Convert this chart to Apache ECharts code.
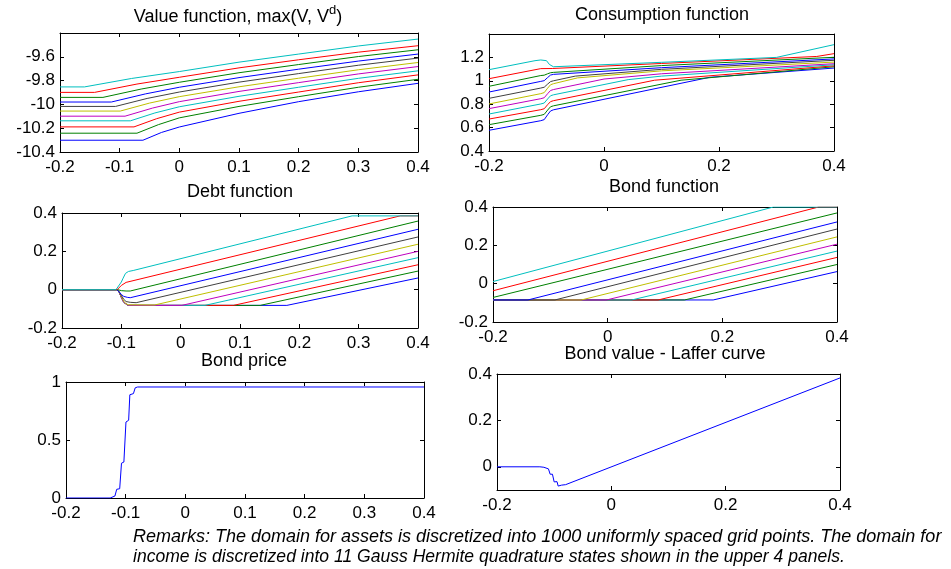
<!DOCTYPE html>
<html>
<head>
<meta charset="utf-8">
<script src="https://cdn.jsdelivr.net/npm/echarts@6/dist/echarts.min.js"></script>
<style>
html,body{margin:0;padding:0;background:#fff;}
#chart{width:951px;height:569px;}
</style>
</head>
<body>
<div id="chart"></div>
<script>
// ---------- data ----------
// series order: lowest income state (drawn first) -> highest income state
const seriesColors = ['#0000ff','#008000','#ff0000','#00bfbf','#bf00bf','#bfbf00','#404040','#0000ff','#008000','#ff0000','#00bfbf'];

const valueFunction = [
  [[-0.2,-10.301],[-0.061,-10.301],[-0.03,-10.236],[0,-10.19],[0.1,-10.075],[0.2,-9.977],[0.3,-9.894],[0.4,-9.823]],
  [[-0.2,-10.242],[-0.071,-10.242],[-0.035,-10.17],[0,-10.113],[0.1,-10.017],[0.2,-9.935],[0.3,-9.856],[0.4,-9.789]],
  [[-0.2,-10.189],[-0.076,-10.189],[-0.038,-10.12],[0,-10.065],[0.1,-9.974],[0.2,-9.896],[0.3,-9.818],[0.4,-9.752]],
  [[-0.2,-10.138],[-0.082,-10.138],[-0.041,-10.072],[0,-10.02],[0.1,-9.932],[0.2,-9.856],[0.3,-9.781],[0.4,-9.718]],
  [[-0.2,-10.099],[-0.091,-10.099],[-0.045,-10.031],[0,-9.977],[0.1,-9.891],[0.2,-9.817],[0.3,-9.744],[0.4,-9.682]],
  [[-0.2,-10.056],[-0.099,-10.056],[-0.05,-9.989],[0,-9.935],[0.1,-9.852],[0.2,-9.78],[0.3,-9.709],[0.4,-9.648]],
  [[-0.2,-10.017],[-0.107,-10.017],[-0.054,-9.95],[0,-9.896],[0.1,-9.813],[0.2,-9.741],[0.3,-9.671],[0.4,-9.611]],
  [[-0.2,-9.98],[-0.114,-9.98],[-0.057,-9.912],[0,-9.856],[0.1,-9.775],[0.2,-9.704],[0.3,-9.636],[0.4,-9.577]],
  [[-0.2,-9.941],[-0.128,-9.941],[-0.064,-9.871],[0,-9.814],[0.1,-9.734],[0.2,-9.665],[0.3,-9.598],[0.4,-9.541]],
  [[-0.2,-9.899],[-0.142,-9.899],[-0.071,-9.829],[0,-9.772],[0.1,-9.693],[0.2,-9.625],[0.3,-9.561],[0.4,-9.507]],
  [[-0.2,-9.853],[-0.159,-9.853],[-0.08,-9.782],[0,-9.724],[0.1,-9.645],[0.2,-9.577],[0.3,-9.509],[0.4,-9.451]]
];

const consumptionFunction = [
  [[-0.2,0.577],[-0.11,0.659],[-0.104,0.668],[-0.098,0.71],[-0.093,0.742],[-0.088,0.752],[0.184,1.03],[0.4,1.109]],
  [[-0.2,0.625],[-0.11,0.705],[-0.104,0.713],[-0.098,0.75],[-0.093,0.778],[-0.088,0.786],[0.134,1.005],[0.4,1.12]],
  [[-0.2,0.673],[-0.11,0.753],[-0.104,0.761],[-0.098,0.796],[-0.093,0.822],[-0.088,0.83],[0.088,1.005],[0.4,1.128]],
  [[-0.2,0.716],[-0.11,0.802],[-0.104,0.81],[-0.098,0.845],[-0.093,0.872],[-0.088,0.88],[0.042,1.01],[0.1,1.04],[0.4,1.137]],
  [[-0.2,0.762],[-0.11,0.847],[-0.104,0.855],[-0.098,0.89],[-0.093,0.917],[-0.088,0.925],[0,1.015],[0.1,1.06],[0.4,1.146]],
  [[-0.2,0.802],[-0.11,0.89],[-0.104,0.899],[-0.098,0.937],[-0.093,0.966],[-0.088,0.975],[-0.046,1.025],[0.1,1.085],[0.4,1.16]],
  [[-0.2,0.85],[-0.11,0.938],[-0.104,0.945],[-0.098,0.972],[-0.093,0.993],[-0.088,1.0],[-0.05,1.04],[0.1,1.098],[0.4,1.175]],
  [[-0.2,0.904],[-0.11,0.995],[-0.104,1.001],[-0.098,1.028],[-0.093,1.049],[-0.088,1.055],[0.1,1.112],[0.4,1.187]],
  [[-0.2,0.953],[-0.11,1.045],[-0.104,1.048],[-0.098,1.06],[-0.093,1.069],[-0.088,1.072],[0.1,1.13],[0.4,1.201]],
  [[-0.2,1.018],[-0.11,1.104],[-0.09,1.105],[0.1,1.148],[0.37,1.208],[0.4,1.232]],
  [[-0.2,1.095],[-0.12,1.172],[-0.11,1.178],[-0.1,1.172],[-0.095,1.14],[-0.088,1.12],[0.1,1.158],[0.3,1.2],[0.4,1.309]]
];

const debtFunction = [
  [[-0.2,0],[-0.108,0],[-0.104,-0.01],[-0.1,-0.04],[-0.096,-0.065],[-0.092,-0.075],[-0.088,-0.082],[0.179,-0.082],[0.4,0.061]],
  [[-0.2,0],[-0.108,0],[-0.104,-0.01],[-0.1,-0.04],[-0.096,-0.065],[-0.092,-0.075],[-0.088,-0.082],[0.134,-0.082],[0.4,0.097]],
  [[-0.2,0],[-0.108,0],[-0.104,-0.01],[-0.1,-0.04],[-0.096,-0.065],[-0.092,-0.075],[-0.088,-0.082],[0.089,-0.082],[0.4,0.13]],
  [[-0.2,0],[-0.108,0],[-0.104,-0.01],[-0.1,-0.04],[-0.096,-0.065],[-0.092,-0.075],[-0.088,-0.082],[0.041,-0.082],[0.4,0.167]],
  [[-0.2,0],[-0.108,0],[-0.104,-0.01],[-0.1,-0.04],[-0.096,-0.065],[-0.092,-0.075],[-0.088,-0.082],[0.002,-0.082],[0.4,0.2]],
  [[-0.2,0],[-0.108,0],[-0.104,-0.01],[-0.1,-0.035],[-0.096,-0.06],[-0.092,-0.074],[-0.088,-0.079],[-0.044,-0.08],[0.4,0.237]],
  [[-0.2,0],[-0.108,0],[-0.104,-0.01],[-0.1,-0.03],[-0.096,-0.05],[-0.092,-0.062],[-0.085,-0.066],[-0.075,-0.068],[0.4,0.275]],
  [[-0.2,0],[-0.108,0],[-0.104,-0.01],[-0.1,-0.025],[-0.096,-0.035],[-0.09,-0.04],[-0.085,-0.042],[0.4,0.315]],
  [[-0.2,0],[-0.106,0],[-0.1,-0.005],[-0.092,-0.007],[-0.085,-0.007],[0.4,0.358]],
  [[-0.2,0],[-0.107,0],[-0.104,0.01],[-0.1,0.022],[-0.097,0.028],[-0.092,0.038],[0.37,0.385],[0.4,0.385]],
  [[-0.2,0],[-0.109,0],[-0.106,0.01],[-0.1,0.04],[-0.097,0.06],[-0.093,0.085],[-0.088,0.095],[-0.08,0.1],[0.289,0.385],[0.4,0.385]]
];

const bondFunction = [
  [[-0.2,-0.085],[0.184,-0.085],[0.4,0.063]],
  [[-0.2,-0.085],[0.134,-0.085],[0.4,0.1]],
  [[-0.2,-0.085],[0.088,-0.085],[0.4,0.137]],
  [[-0.2,-0.085],[0.042,-0.085],[0.4,0.17]],
  [[-0.2,-0.085],[-0.002,-0.085],[0.4,0.206]],
  [[-0.2,-0.085],[-0.046,-0.085],[0.4,0.244]],
  [[-0.2,-0.085],[-0.092,-0.085],[0.4,0.285]],
  [[-0.2,-0.085],[-0.139,-0.085],[0.4,0.322]],
  [[-0.2,-0.072],[0.4,0.369]],
  [[-0.2,-0.037],[0.368,0.4],[0.4,0.4]],
  [[-0.2,0.011],[0.289,0.4],[0.4,0.4]]
];

const bondPrice = [[-0.2,0],[-0.126,0],[-0.118,0.017],[-0.115,0.075],[-0.11,0.08],[-0.107,0.3],[-0.103,0.31],[-0.0995,0.655],[-0.095,0.67],[-0.093,0.89],[-0.087,0.9],[-0.084,0.95],[-0.08,0.957],[0.4,0.957]];

const lafferCurve = [[-0.2,0],[-0.125,0],[-0.118,-0.002],[-0.115,-0.009],[-0.11,-0.009],[-0.107,-0.032],[-0.103,-0.032],[-0.1,-0.065],[-0.095,-0.064],[-0.093,-0.083],[-0.087,-0.079],[-0.084,-0.08],[-0.08,-0.077],[0.4,0.383]];

// tick labels
const xTicksFine = [-0.2,-0.1,0,0.1,0.2,0.3,0.4];
const xTicksCoarse = [-0.2,0,0.2,0.4];
const yTicksValue = [-10.4,-10.2,-10,-9.8,-9.6];
const yTicksConsumption = [0.4,0.6,0.8,1,1.2];
const yTicksDebt = [-0.2,0,0.2,0.4];
const yTicksBond = [-0.2,0,0.2,0.4];
const yTicksPrice = [0,0.5,1];
const yTicksLaffer = [0,0.2,0.4];

const panelTitles = ['Value function, max(V, V', 'Consumption function', 'Debt function', 'Bond function', 'Bond price', 'Bond value - Laffer curve'];
const remarksLines = [
  'Remarks: The domain for assets is discretized into 1000 uniformly spaced grid points. The domain for',
  'income is discretized into 11 Gauss Hermite quadrature states shown in the upper 4 panels.'
];

// ---------- layout ----------
const FONT = "'Liberation Sans', Arial, Helvetica, sans-serif";
const TICK_FS = 17;
const TITLE_FS = 18;

const panels = [
  {grid:{left:60, top:33, width:358, height:119}, xr:[-0.2,0.4], xi:0.1, xt:xTicksFine,   yr:[-10.4,-9.4], yi:0.2, yt:yTicksValue,       data:valueFunction, title:[238,15]},
  {grid:{left:489,top:34, width:345, height:117}, xr:[-0.2,0.4], xi:0.2, xt:xTicksCoarse, yr:[0.4,1.4],    yi:0.2, yt:yTicksConsumption, data:consumptionFunction, title:[662,15]},
  {grid:{left:62, top:213,width:356, height:115}, xr:[-0.2,0.4], xi:0.1, xt:xTicksFine,   yr:[-0.2,0.4],   yi:0.2, yt:yTicksDebt,        data:debtFunction, title:[240,192]},
  {grid:{left:493,top:207,width:344, height:115}, xr:[-0.2,0.4], xi:0.2, xt:xTicksCoarse, yr:[-0.2,0.4],   yi:0.2, yt:yTicksBond,        data:bondFunction, title:[664,187]},
  {grid:{left:66, top:382,width:358, height:116}, xr:[-0.2,0.4], xi:0.1, xt:xTicksFine,   yr:[0,1],        yi:0.5, yt:yTicksPrice,       data:[bondPrice], title:[244,361], single:true},
  {grid:{left:497,top:374,width:343, height:116}, xr:[-0.2,0.4], xi:0.2, xt:xTicksCoarse, yr:[-0.1,0.4],   yi:0.1, yt:yTicksLaffer,      data:[lafferCurve], title:[665,354], single:true}
];

function fmt(v){ return String(parseFloat(Number(v).toFixed(3))); }

const grids=[], xAxes=[], yAxes=[], series=[];
panels.forEach((p, i) => {
  grids.push(Object.assign({show:false, containLabel:false}, p.grid));
  const axisLine = {show:true, onZero:false, lineStyle:{color:'#000', width:1}};
  const tickBase = {show:true, inside:true, length:4, lineStyle:{color:'#000', width:1}};
  ['bottom','top'].forEach(pos => {
    xAxes.push({
      type:'value', gridIndex:i, position:pos, min:p.xr[0], max:p.xr[1], interval:p.xi,
      axisLine, splitLine:{show:false},
      axisTick:Object.assign({customValues:p.xt}, tickBase),
      axisLabel:{show:pos==='bottom', customValues:p.xt, formatter:fmt, color:'#000', fontFamily:FONT, fontSize:TICK_FS, margin:7, hideOverlap:false, showMinLabel:true, showMaxLabel:true}
    });
  });
  ['left','right'].forEach(pos => {
    yAxes.push({
      type:'value', gridIndex:i, position:pos, min:p.yr[0], max:p.yr[1], interval:p.yi,
      axisLine, splitLine:{show:false},
      axisTick:Object.assign({customValues:p.yt}, tickBase),
      axisLabel:{show:pos==='left', customValues:p.yt, formatter:fmt, color:'#000', fontFamily:FONT, fontSize:TICK_FS, margin:5, hideOverlap:false, showMinLabel:true, showMaxLabel:true}
    });
  });
  p.data.forEach((d, k) => {
    series.push({
      type:'line', xAxisIndex:i*2, yAxisIndex:i*2, data:d,
      showSymbol:false, symbol:'none', clip:true, silent:true,
      lineStyle:{width:1, color: p.single ? '#0000ff' : seriesColors[k]},
      itemStyle:{color: p.single ? '#0000ff' : seriesColors[k]}
    });
  });
});

const graphics = [];
panels.forEach((p, i) => {
  const el = {type:'text', x:p.title[0], y:p.title[1], silent:true,
    style:{fill:'#000', align:'center', verticalAlign:'middle', font: TITLE_FS + 'px ' + FONT}};
  if (i === 0) {
    el.style.text = '{a|' + panelTitles[0] + '}{s|d}{a|)}';
    el.style.rich = {
      a:{fontSize:TITLE_FS, fontFamily:FONT, fill:'#000', lineHeight:22, verticalAlign:'bottom'},
      s:{fontSize:13, fontFamily:FONT, fill:'#000', lineHeight:22, verticalAlign:'top'}
    };
  } else {
    el.style.text = panelTitles[i];
  }
  graphics.push(el);
});
const remarkScale = [1.0, 0.975];
remarksLines.forEach((t, k) => {
  graphics.push({type:'text', x:133, y:537 + k*20, scaleX:remarkScale[k], silent:true,
    style:{text:t, fill:'#000', align:'left', verticalAlign:'middle', font:'italic 18px ' + FONT}});
});

const chart = echarts.init(document.getElementById('chart'), null, {renderer:'canvas'});
chart.setOption({
  animation:false,
  backgroundColor:'#fff',
  grid:grids, xAxis:xAxes, yAxis:yAxes, series:series,
  graphic:graphics
});
</script>
</body>
</html>
